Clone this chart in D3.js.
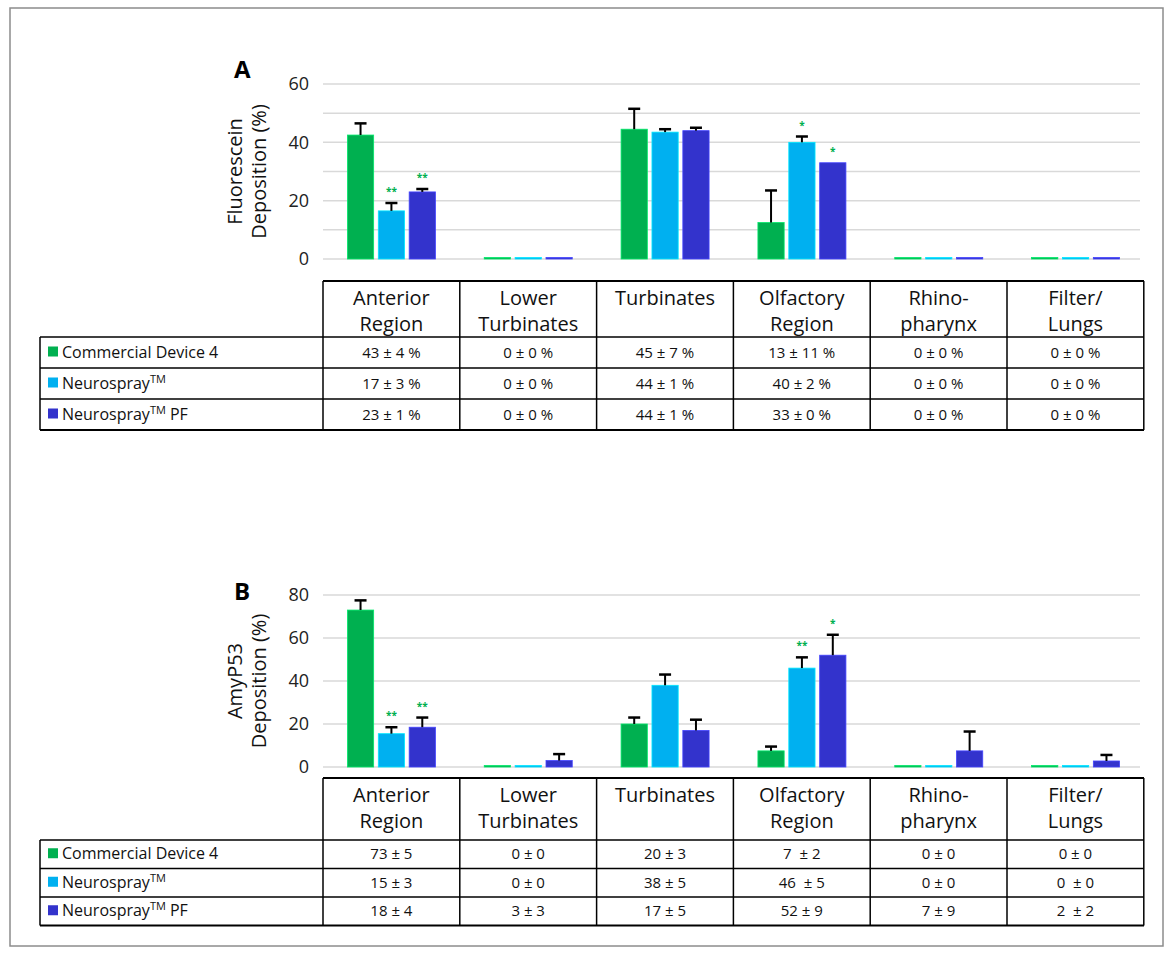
<!DOCTYPE html>
<html><head><meta charset="utf-8">
<script src="https://cdn.jsdelivr.net/npm/d3@7"></script>
<style>body{margin:0;background:#fff;font-family:"Open Sans",Calibri,sans-serif}</style>
</head><body><div id="chart"></div>
<script>
var regions = [["Anterior","Region"],["Lower","Turbinates"],["Turbinates"],["Olfactory","Region"],["Rhino-","pharynx"],["Filter/","Lungs"]];
var seriesNames = ["Commercial Device 4","Neurospray","Neurospray PF"];
var colors = ["#00b050","#00b0f0","#3333cc"];

var fluMeans = [[42.5,0,44.5,12.5,0,0],[16.5,0,43.5,40,0,0],[23,0,44,33,0,0]];
var fluErr = [[4,0,7,11,0,0],[2.7,0,1,2,0,0],[1,0,1,0,0,0]];
var fluStars = [["","","","","",""],["**","","","*","",""],["**","","","*","",""]];
var fluTable = [["43 ± 4 %","0 ± 0 %","45 ± 7 %","13 ± 11 %","0 ± 0 %","0 ± 0 %"],
                ["17 ± 3 %","0 ± 0 %","44 ± 1 %","40 ± 2 %","0 ± 0 %","0 ± 0 %"],
                ["23 ± 1 %","0 ± 0 %","44 ± 1 %","33 ± 0 %","0 ± 0 %","0 ± 0 %"]];
var fluTicks = [0,20,40,60];

var amyMeans = [[73,0,20,7.5,0,0],[15.5,0,38,46,0,0],[18.5,3,17,52,7.5,2.8]];
var amyErr = [[4.5,0,3,2,0,0],[3,0,5,5,0,0],[4.5,3,5,9.5,9,2.8]];
var amyStars = [["","","","","",""],["**","","","**","",""],["**","","","*","",""]];
var amyTable = [["73 ± 5","0 ± 0","20 ± 3","7  ± 2","0 ± 0","0 ± 0"],
                ["15 ± 3","0 ± 0","38 ± 5","46  ± 5","0 ± 0","0  ± 0"],
                ["18 ± 4","3 ± 3","17 ± 5","52 ± 9","7 ± 9","2  ± 2"]];
var amyTicks = [0,20,40,60,80];

var svg = d3.select("#chart").append("svg").attr("width",1174).attr("height",956);
svg.append("rect").attr("x",10).attr("y",8).attr("width",1153).attr("height",938)
  .attr("fill","none").attr("stroke","#8c8c8c").attr("stroke-width",1.5);

function panel(o) {
  var x0 = d3.scaleBand().domain(d3.range(6)).range([323,1144]);
  var x1 = d3.scaleBand().domain(d3.range(3)).range([0,88]).paddingInner(0.15);
  var y = d3.scaleLinear().domain([0,o.max]).range([o.y0,o.y1]);
  var g = svg.append("g");
  // gridlines
  g.selectAll(".grid").data(o.grid).enter().append("line")
    .attr("x1",323).attr("x2",1140).attr("y1",d=>y(d)).attr("y2",d=>y(d))
    .attr("stroke","#d9d9d9").attr("stroke-width",1.5);
  var yAxis = d3.axisLeft(y).tickValues(o.ticks).tickSize(0).tickPadding(14);
  var ga = g.append("g").attr("transform","translate(323,0)").call(yAxis);
  ga.select(".domain").remove();
  ga.selectAll("text").attr("font-size",18).attr("fill","#222").attr("font-family","Open Sans");
  // y label
  var lab = g.append("text").attr("transform",`translate(${o.labX},${(o.y0+o.y1)/2}) rotate(-90)`)
    .attr("text-anchor","middle").attr("font-size",20).attr("fill","#111");
  o.label.forEach((t,i)=>lab.append("tspan").attr("x",0).attr("dy",i?24:0).text(t));
  g.append("text").attr("x",o.letX).attr("y",o.letY).attr("font-size",24).attr("font-weight","bold").text(o.letter);
  // bars
  o.means.forEach((ser,s)=>{
    ser.forEach((v,c)=>{
      var bx = x0(c)+(x0.bandwidth()-88)/2+x1(s), bw = x1.bandwidth();
      var h = Math.max(y(0)-y(v),1.5);
      g.append("rect").attr("x",bx).attr("y",y(0)-h).attr("width",bw).attr("height",h)
        .attr("fill",colors[s]).attr("stroke",d3.color(colors[s]).brighter(0.8)).attr("stroke-width",0.8);
      var e = o.err[s][c];
      if (e>0) {
        var cx = bx+bw/2;
        g.append("line").attr("x1",cx).attr("x2",cx).attr("y1",y(v)).attr("y2",y(v+e)).attr("stroke","#000").attr("stroke-width",2);
        g.append("line").attr("x1",cx-6).attr("x2",cx+6).attr("y1",y(v+e)).attr("y2",y(v+e)).attr("stroke","#000").attr("stroke-width",2.5);
      }
      if (o.stars[s][c]) g.append("text").attr("x",bx+bw/2).attr("y",y(v+e)-8)
        .attr("text-anchor","middle").attr("font-size",10).attr("font-weight","bold").attr("fill","#00b050").text(o.stars[s][c]);
    });
  });
  // table
  var t = o.table, cols = d3.range(7).map(i=>323+i*136.8);
  var rows = [t.top, t.head, t.head+t.rh, t.head+2*t.rh, t.head+3*t.rh];
  var L = (x1_,y1_,x2_,y2_,w)=>g.append("line").attr("x1",x1_).attr("y1",y1_).attr("x2",x2_).attr("y2",y2_).attr("stroke","#000").attr("stroke-width",w||1.5);
  L(323,rows[0],1144,rows[0],2);
  for (var r=1;r<5;r++) L(40,rows[r],1144,rows[r],r==4?2:1.5);
  cols.forEach(cx=>L(cx,rows[0],cx,rows[4]));
  L(40,rows[1],40,rows[4]);
  regions.forEach((lines,c)=>{
    var tx = g.append("text").attr("x",cols[c]+68.4).attr("y",rows[0]+24).attr("text-anchor","middle").attr("font-size",20).attr("fill","#111");
    lines.forEach((l,i)=>tx.append("tspan").attr("x",cols[c]+68.4).attr("dy",i?26:0).text(l));
  });
  seriesNames.forEach((n,s)=>{
    var cy = rows[1+s]+t.rh/2;
    g.append("rect").attr("x",48).attr("y",cy-6).attr("width",10).attr("height",10).attr("fill",colors[s]);
    var tx = g.append("text").attr("x",62).attr("y",cy+5).attr("font-size",16).attr("fill","#111");
    if (s==0) tx.text(n);
    else {
      tx.append("tspan").text("Neurospray");
      tx.append("tspan").attr("font-size",11).attr("dy",-6).text("TM");
      if (s==2) tx.append("tspan").attr("dy",6).text(" PF");
    }
    o.tvals[s].forEach((v,c)=>g.append("text").attr("x",cols[c]+68.4).attr("y",cy+5).attr("text-anchor","middle")
      .attr("font-size",15).attr("fill","#111").style("white-space","pre").attr("xml:space","preserve").text(v));
  });
}

panel({max:60,y0:259,y1:84,grid:[0,10,20,30,40,50,60],ticks:fluTicks,label:["Fluorescein","Deposition (%)"],labX:242,
  letter:"A",letX:234,letY:78,means:fluMeans,err:fluErr,stars:fluStars,tvals:fluTable,
  table:{top:281,head:337,rh:31}});
panel({max:80,y0:767,y1:595,grid:[0,20,40,60,80],ticks:amyTicks,label:["AmyP53","Deposition (%)"],labX:242,
  letter:"B",letX:234,letY:600,means:amyMeans,err:amyErr,stars:amyStars,tvals:amyTable,
  table:{top:778,head:840,rh:28.5}});
</script></body></html>
